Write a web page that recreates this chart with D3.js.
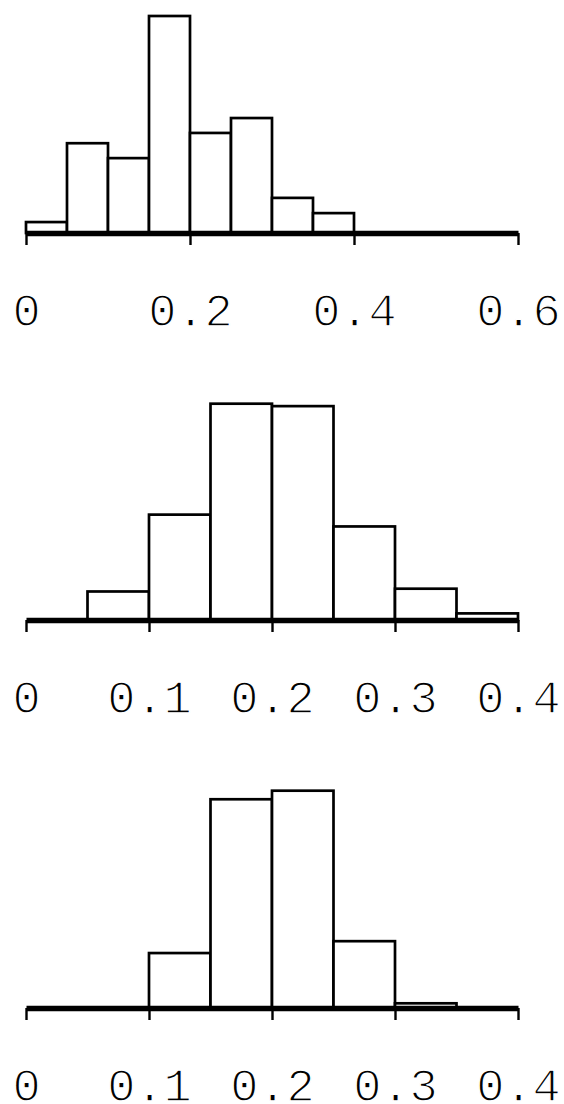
<!DOCTYPE html>
<html>
<head>
<meta charset="utf-8">
<script src="https://cdn.jsdelivr.net/npm/d3@7"></script>
<style>
  html, body { margin: 0; padding: 0; background: #fff; }
  svg { display: block; }
</style>
</head>
<body>
<script>
// ---- Data ----
const binWidth = 0.05;

// Panel 1: bins starting at these x values
const p1Starts = [0.00, 0.05, 0.10, 0.15, 0.20, 0.25, 0.30, 0.35];
const p1Values = [0.33, 2.71, 2.26, 6.55, 3.02, 3.47, 1.06, 0.60];
const p1Ticks = [0, 0.2, 0.4, 0.6];
const p1TickLabels = ["0", "0.2", "0.4", "0.6"];

// Panel 2
const p2Starts = [0.05, 0.10, 0.15, 0.20, 0.25, 0.30, 0.35];
const p2Values = [0.82, 3.03, 6.22, 6.15, 2.69, 0.90, 0.19];
const p2Ticks = [0, 0.1, 0.2, 0.3, 0.4];
const p2TickLabels = ["0", "0.1", "0.2", "0.3", "0.4"];

// Panel 3
const p3Starts = [0.10, 0.15, 0.20, 0.25, 0.30];
const p3Values = [1.99, 7.56, 7.87, 2.42, 0.17];
const p3Ticks = [0, 0.1, 0.2, 0.3, 0.4];
const p3TickLabels = ["0", "0.1", "0.2", "0.3", "0.4"];

const W = 564, H = 1104;
const svg = d3.select("body").append("svg")
  .attr("width", W).attr("height", H)
  .attr("viewBox", `0 0 ${W} ${H}`);

const panels = [
  { starts: p1Starts, values: p1Values, xmax: 0.6, ticks: p1Ticks, labels: p1TickLabels, base: 233, top: 16 },
  { starts: p2Starts, values: p2Values, xmax: 0.4, ticks: p2Ticks, labels: p2TickLabels, base: 620, top: 403.7 },
  { starts: p3Starts, values: p3Values, xmax: 0.4, ticks: p3Ticks, labels: p3TickLabels, base: 1008, top: 790.7 }
];

panels.forEach(p => {
  const x = d3.scaleLinear().domain([0, p.xmax]).range([26, 518]);
  const y = d3.scaleLinear().domain([0, d3.max(p.values)]).range([p.base, p.top]);
  const g = svg.append("g");
  const bins = p.starts.map((s, i) => ({ x0: s, x1: s + binWidth, v: p.values[i] }));

  g.selectAll("rect").data(bins).join("rect")
    .attr("x", d => x(d.x0))
    .attr("y", d => y(d.v))
    .attr("width", d => x(d.x1) - x(d.x0))
    .attr("height", d => y(0) - y(d.v))
    .attr("fill", "#fff")
    .attr("stroke", "#000")
    .attr("stroke-width", 2.7);

  const axis = d3.axisBottom(x)
    .tickValues(p.ticks)
    .tickFormat((d, i) => p.labels[i])
    .tickSize(12)
    .tickSizeOuter(0);

  const ag = g.append("g").attr("transform", `translate(0,${p.base})`).call(axis);
  ag.select(".domain").attr("stroke", "#000").attr("stroke-width", 5.5);
  ag.selectAll(".tick line").attr("stroke", "#000").attr("stroke-width", 2.4);
  ag.selectAll(".tick text")
    .attr("y", 93).attr("dy", 0)
    .attr("fill", "#000")
    .attr("stroke", "#fff")
    .attr("stroke-width", 1.4)
    .style("paint-order", "fill")
    .style("font-family", "'Liberation Mono', monospace")
    .style("font-size", "47px");
});
</script>
</body>
</html>
